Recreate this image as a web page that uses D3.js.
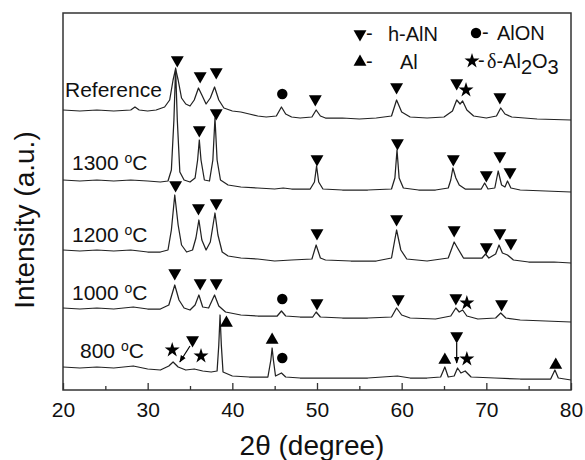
<!DOCTYPE html>
<html>
<head>
<meta charset="utf-8">
<script src="https://cdn.jsdelivr.net/npm/d3@7"></script>
<style>
  body { margin: 0; background: #fff; }
  svg { display: block; }
  text { font-family: "Liberation Sans", Arial, sans-serif; fill: #111; }
</style>
</head>
<body>
<svg id="chart" width="585" height="460"></svg>
<script>
// ===== XRD patterns, stacked with an offset per sample =====

const xTicks = [20, 30, 40, 50, 60, 70, 80];
const xMinorTicks = [25, 35, 45, 55, 65, 75];

const seriesNames = ["Reference", "1300", "1200", "1000", "800"];
const seriesOffsets = [2700, 1900, 1200, 600, 0];

// [2theta, counts]
const refPattern = [
  [20,100],[22,90],[24,100],[26,90],[28,100],[28.5,130],[29,100],[30,90],[31,100],[32,130],
  [32.6,200],[33.0,400],[33.3,510],[33.6,400],[34.0,220],[34.5,160],[35.0,140],[35.5,200],
  [36.0,320],[36.4,250],[36.9,160],[37.4,220],[37.9,330],[38.4,200],[39,120],[40,90],[41,80],
  [42,60],[43,40],[44,30],[45.2,40],[45.8,130],[46.3,60],[47,30],[48,20],[49.4,30],[49.9,100],
  [50.4,40],[51,20],[53,20],[55,10],[57,20],[58.8,40],[59.4,200],[60,80],[61,30],[63,20],
  [65,30],[66,90],[66.5,200],[66.9,160],[67.2,190],[67.7,100],[68.5,40],[70,20],[71.2,40],
  [71.7,120],[72.2,60],[73,30],[76,10],[80,0]
];
const p1300 = [
  [20,200],[22,190],[24,200],[26,190],[28,200],[30,190],[31.5,180],[32.4,190],[32.8,300],
  [33.1,800],[33.3,1320],[33.5,800],[33.8,280],[34.3,200],[35,180],[35.6,220],[35.9,400],
  [36.1,600],[36.3,400],[36.7,200],[37.3,190],[37.7,400],[37.95,820],[38.2,400],[38.6,200],
  [39.5,150],[41,130],[43,120],[45,110],[46,120],[47,110],[49.2,110],[49.7,180],[49.95,340],
  [50.2,180],[50.7,110],[53,100],[56,100],[58.8,110],[59.2,220],[59.45,500],[59.7,220],
  [60.2,120],[62,100],[64,100],[65.5,120],[65.8,200],[66.05,320],[66.4,220],[66.8,150],
  [67.5,110],[69.4,110],[69.8,170],[70.2,110],[71.0,120],[71.4,290],[71.8,150],[72.2,130],
  [72.5,190],[72.9,120],[74,100],[77,90],[80,80]
];
const p1200 = [
  [20,200],[22,190],[24,200],[26,190],[28,200],[30,180],[31.5,180],[32.4,200],[32.8,400],
  [33.2,750],[33.6,450],[34.0,250],[34.6,180],[35.3,200],[35.7,320],[36.05,500],[36.4,300],
  [36.9,200],[37.4,280],[37.95,570],[38.3,350],[38.8,180],[39.5,140],[41,120],[43,110],
  [45,90],[47,100],[49.4,110],[49.9,250],[50.4,120],[51,100],[54,90],[57,90],[58.8,120],
  [59.4,400],[59.9,200],[60.6,110],[63,90],[65.5,120],[66.2,280],[66.6,220],[67.3,120],
  [69.5,120],[69.9,160],[70.3,120],[71.1,160],[71.5,250],[71.9,170],[72.5,150],[73.2,100],
  [75,80],[78,80],[80,70]
];
const p1000 = [
  [20,220],[22,210],[24,220],[26,210],[28.3,230],[30,210],[31.5,210],[32.5,250],[33.2,450],
  [33.7,300],[34.3,220],[35,200],[35.6,250],[36.05,350],[36.5,230],[37.2,220],[37.9,350],
  [38.4,240],[39.2,180],[41,150],[43,140],[45.3,140],[45.8,190],[46.3,140],[48,130],
  [49.5,130],[49.9,180],[50.4,130],[53,120],[56,120],[58.8,130],[59.4,220],[60,150],
  [61,120],[64,110],[65.8,140],[66.4,220],[66.8,180],[67.2,200],[67.7,140],[69,110],
  [71.1,120],[71.7,170],[72.3,120],[74,100],[77,90],[80,80]
];
const p800 = [
  [20,230],[22,220],[24,230],[26,220],[28.3,240],[30,210],[31.5,200],[32.5,240],[33.0,280],
  [33.6,230],[34.5,200],[35.5,210],[36.5,190],[37.5,180],[38.2,190],[38.4,450],[38.55,750],
  [38.7,450],[38.9,180],[40,140],[42,130],[44.2,130],[44.55,300],[44.7,420],[44.85,300],
  [45.1,140],[45.8,170],[46.3,130],[48,120],[52,120],[56,120],[59.5,140],[61,120],[63,120],
  [64.6,130],[65.1,230],[65.5,130],[66.2,140],[66.6,220],[67.0,170],[67.5,190],[68.2,130],
  [71,120],[74,110],[77.6,110],[78.1,200],[78.5,120],[80,100]
];
const patterns = [refPattern, p1300, p1200, p1000, p800];

// phase marks: [2theta, level] on the stacked intensity axis
const hAlNMarks = [
  [33.5,3300],[36.2,3140],[38.1,3180],[49.8,2910],[59.4,3030],[66.5,3070],[71.6,2930],
  [36.1,2600],[38.1,2770],[50.0,2310],[59.5,2470],[66.1,2310],[70.0,2150],[71.6,2340],[72.8,2180],
  [33.3,2050],[36.0,1820],[38.1,1870],[50.0,1570],[59.4,1710],[66.2,1600],[70.0,1430],[71.6,1570],[72.9,1470],
  [33.2,1170],[36.2,1070],[38.1,1070],[50.0,870],[59.6,910],[66.4,920],[71.8,860],
  [35.3,500],[66.5,540]
];
const alonMarks = [[45.9,2960],[45.9,910],[45.9,320]];
const alMarks = [[39.3,670],[44.7,500],[65.1,300],[78.2,250]];
const al2o3Marks = [[67.6,3000],[67.7,870],[32.9,400],[36.3,340],[67.7,310]];
// arrows from a mark to its peak: [x1, y1, x2, y2]
const arrows = [[35.0,440,33.8,280],[66.5,470,66.5,270]];

const W = 585, H = 460;
const margin = { top: 13, right: 14, bottom: 70, left: 63 };
const svg = d3.select("#chart");

const x = d3.scaleLinear().domain([20, 80]).range([margin.left, W - margin.right]);
const y = d3.scaleLinear().domain([0, 3770]).range([H - margin.bottom, margin.top]);

// frame
svg.append("rect")
  .attr("x", x(20)).attr("y", y(3770))
  .attr("width", x(80) - x(20)).attr("height", y(0) - y(3770))
  .attr("fill", "none").attr("stroke", "#333").attr("stroke-width", 1.5);

// bottom axis, ticks inside
const xAxis = svg.append("g")
  .attr("transform", `translate(0,${y(0)})`)
  .call(d3.axisBottom(x).tickValues(xTicks).tickSizeInner(-7).tickSizeOuter(0).tickPadding(12));
xAxis.select(".domain").remove();
xAxis.selectAll(".tick line").attr("stroke", "#333").attr("stroke-width", 1.3);
xAxis.selectAll("text").attr("font-size", 21).attr("fill", "#111")
  .style("font-family", '"Liberation Sans", Arial, sans-serif');

const xMinor = svg.append("g")
  .attr("transform", `translate(0,${y(0)})`)
  .call(d3.axisBottom(x).tickValues(xMinorTicks).tickSizeInner(-4).tickSizeOuter(0).tickFormat(""));
xMinor.select(".domain").remove();
xMinor.selectAll(".tick line").attr("stroke", "#333").attr("stroke-width", 1.3);

// patterns
const line = d3.line().x(d => x(d[0])).y(d => y(d[1]));
patterns.forEach((pat, i) => {
  const off = seriesOffsets[i];
  svg.append("path")
    .datum(pat.map(d => [d[0], d[1] + off]))
    .attr("d", line)
    .attr("fill", "none")
    .attr("stroke", "#222")
    .attr("stroke-width", 1.25)
    .attr("stroke-linejoin", "round");
});

// phase symbols
const triSym = d3.symbol().type(d3.symbolTriangle).size(72)();
const circSym = d3.symbol().type(d3.symbolCircle).size(85)();
const starSym = d3.symbol().type(d3.symbolStar).size(70)();

function drawMarks(data, path, rot) {
  svg.append("g").selectAll("path")
    .data(data)
    .join("path")
    .attr("d", path)
    .attr("transform", d => `translate(${x(d[0])},${y(d[1])}) rotate(${rot})`)
    .attr("fill", "#000");
}
drawMarks(hAlNMarks, triSym, 180);
drawMarks(alonMarks, circSym, 0);
drawMarks(alMarks, triSym, 0);
drawMarks(al2o3Marks, starSym, 0);

// arrows
svg.append("defs").append("marker")
  .attr("id", "arr").attr("viewBox", "0 0 10 10")
  .attr("refX", 9).attr("refY", 5)
  .attr("markerWidth", 6).attr("markerHeight", 6)
  .attr("orient", "auto")
  .append("path").attr("d", "M0,1L10,5L0,9Z").attr("fill", "#000");
svg.append("g").selectAll("line")
  .data(arrows)
  .join("line")
  .attr("x1", d => x(d[0])).attr("y1", d => y(d[1]))
  .attr("x2", d => x(d[2])).attr("y2", d => y(d[3]))
  .attr("stroke", "#000").attr("stroke-width", 1.2)
  .attr("marker-end", "url(#arr)");

// sample labels
const labelPos = [[65, 97], [72, 170], [72, 242], [72, 300], [80, 358]];
seriesNames.forEach((name, i) => {
  const t = svg.append("text")
    .attr("x", labelPos[i][0]).attr("y", labelPos[i][1])
    .attr("font-size", 21);
  if (i === 0) {
    t.text(name);
  } else {
    t.append("tspan").text(name + " ");
    t.append("tspan").attr("font-size", 14).attr("dy", -7).text("o");
    t.append("tspan").attr("dy", 7).text("C");
  }
});

// legend
const legend = svg.append("g").attr("font-size", 20);
function legendItem(path, rot, sx, sy) {
  legend.append("path").attr("d", path)
    .attr("transform", `translate(${sx},${sy}) rotate(${rot})`).attr("fill", "#000");
  legend.append("text").attr("x", sx + 6).attr("y", sy + 6).text("-");
  return legend.append("text").attr("y", sy + 7);
}
legendItem(triSym, 180, 360, 34).attr("x", 388).text("h-AlN");
legendItem(circSym, 0, 476, 33).attr("x", 497).text("AlON");
legendItem(triSym, 0, 360, 62).attr("x", 400).text("Al");
const al2o3 = legendItem(starSym, 0, 472, 61).attr("x", 487);
al2o3.append("tspan").style("font-family", '"Liberation Serif", "Times New Roman", serif').text("δ");
al2o3.append("tspan").text("-Al");
al2o3.append("tspan").attr("dy", 6).text("2");
al2o3.append("tspan").attr("dy", -6).text("O");
al2o3.append("tspan").attr("dy", 6).text("3");

// axis titles
svg.append("text")
  .attr("x", 312).attr("y", 455)
  .attr("text-anchor", "middle").attr("font-size", 28)
  .text("2θ (degree)");
svg.append("text")
  .attr("transform", `translate(34,220) rotate(-90)`)
  .attr("text-anchor", "middle").attr("font-size", 28)
  .text("Intensity (a.u.)");
</script>
</body>
</html>
